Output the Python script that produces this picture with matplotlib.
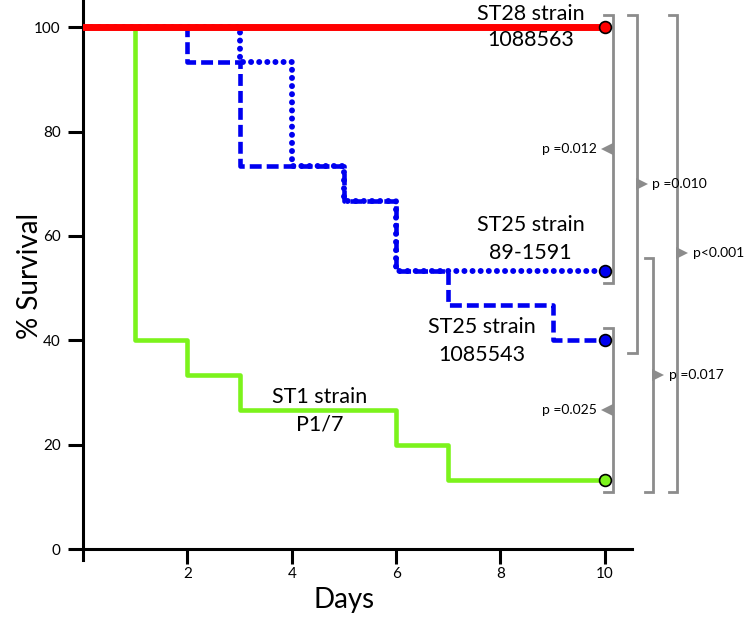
import matplotlib
matplotlib.use('Agg')
import matplotlib.pyplot as plt

plt.rcParams['font.family'] = ['Lato', 'DejaVu Sans']

# Kaplan-Meier style survival curves (days, % survival)
st1_days = [0, 1, 2, 3, 6, 7, 10]
st1_surv = [100, 40, 33.3, 26.7, 20, 13.3, 13.3]

st25a_days = [0, 2, 3, 5, 6, 7, 9, 10]
st25a_surv = [100, 93.3, 73.3, 66.7, 53.3, 46.7, 40, 40]

st25b_days = [0, 3, 4, 5, 6, 10]
st25b_surv = [100, 93.3, 73.3, 66.7, 53.3, 53.3]

st28_days = [0, 10]
st28_surv = [100, 100]

# pairwise comparisons: upper curve end value, lower curve end value, p label
comp_top = [100, 40, 100, 53.3, 100]
comp_bottom = [53.3, 13.3, 40, 13.3, 13.3]
comp_labels = ['p =0.012', 'p =0.025', 'p =0.010', 'p =0.017', 'p<0.001']

xticks = [2, 4, 6, 8, 10]
yticks = [0, 20, 40, 60, 80, 100]

fig = plt.figure(figsize=(7.5, 6.18), dpi=100)
ax = fig.add_axes([83 / 750, 1 - 560 / 618, (632 - 83) / 750, 560 / 618])

green = '#7CF31C'
blue = '#0000F0'
red = '#FF0000'
gray = '#8C8C8C'

ax.step(st1_days, st1_surv, where='post', color=green, lw=3.3, zorder=2)
ax.step(st25a_days, st25a_surv, where='post', color=blue, lw=3.3,
        dashes=(2.6, 1.1), dash_capstyle='butt', zorder=3)
ax.step(st25b_days, st25b_surv, where='post', color=blue, lw=4.3,
        linestyle=(0, (0.01, 1.35)), dash_capstyle='round', zorder=3)
ax.step(st28_days, st28_surv, where='post', color=red, lw=5, zorder=4)

# end markers
for d, s, c in [(st28_days, st28_surv, red), (st25b_days, st25b_surv, blue),
                (st25a_days, st25a_surv, blue), (st1_days, st1_surv, green)]:
    ax.plot(d[-1], s[-1], 'o', ms=8.5, mfc=c, mec='black', mew=1.2,
            zorder=5, clip_on=False)

# curve labels
fs = 15.5
ax.text(8.58, 102.5, 'ST28 strain', ha='center', va='center', fontsize=fs)
ax.text(8.58, 97.6, '1088563', ha='center', va='center', fontsize=fs)
ax.text(8.58, 62.1, 'ST25 strain', ha='center', va='center', fontsize=fs)
ax.text(8.58, 56.7, '89-1591', ha='center', va='center', fontsize=fs)
ax.text(7.64, 42.6, 'ST25 strain', ha='center', va='center', fontsize=fs)
ax.text(7.64, 37.2, '1085543', ha='center', va='center', fontsize=fs)
ax.text(4.54, 29.2, 'ST1 strain', ha='center', va='center', fontsize=fs)
ax.text(4.54, 23.8, 'P1/7', ha='center', va='center', fontsize=fs)

# comparison brackets
bx = [10.15, 10.15, 10.61, 10.92, 11.38]
side = ['left', 'left', 'right', 'right', 'right']
hook = 0.16
pad = 2.4
for top, bot, lab, x, sd in zip(comp_top, comp_bottom, comp_labels, bx, side):
    y0, y1 = bot - pad, top + pad
    ax.plot([x - hook, x, x, x - hook], [y1, y1, y0, y0], color=gray,
            lw=2.0, clip_on=False, solid_joinstyle='miter', zorder=1)
    ym = (y0 + y1) / 2
    if sd == 'left':
        ax.plot(x - 0.1, ym, '<', ms=8, color=gray, mew=0, clip_on=False)
        ax.text(x - 0.3, ym, lab, ha='right', va='center', fontsize=10)
    else:
        ax.plot(x + 0.1, ym, '>', ms=8, color=gray, mew=0, clip_on=False)
        ax.text(x + 0.3, ym, lab, ha='left', va='center', fontsize=10)

ax.set_xlim(0, 10.52)
ax.set_ylim(-2.1, 105.2)
ax.spines['top'].set_visible(False)
ax.spines['right'].set_visible(False)
ax.spines['bottom'].set_position(('data', 0))
for s in ['left', 'bottom']:
    ax.spines[s].set_linewidth(2.2)

ax.set_xticks(xticks)
ax.set_yticks(yticks)
ax.tick_params(axis='both', length=11, width=2.2, labelsize=11)
ax.tick_params(axis='y', pad=5)
ax.tick_params(axis='x', pad=2)

fig.text(30 / 750, 1 - 276 / 618, '% Survival', rotation=90,
         ha='center', va='center', fontsize=20)
fig.text(344 / 750, 1 - 600 / 618, 'Days', ha='center', va='center',
         fontsize=20)

fig.savefig('out.png', dpi=100)
